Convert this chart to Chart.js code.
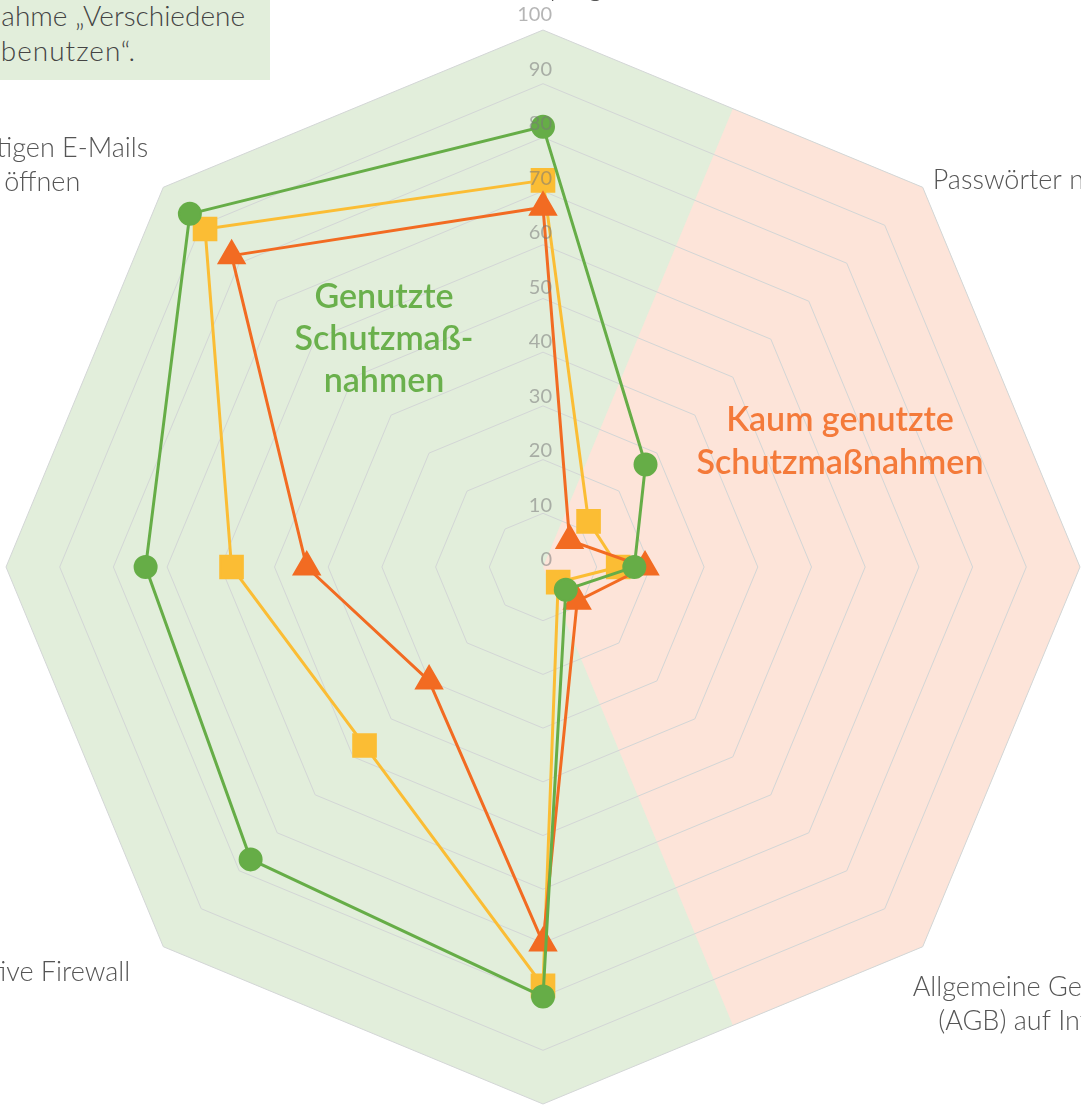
<!DOCTYPE html>
<html>
<head>
<meta charset="utf-8">
<script src="https://cdn.jsdelivr.net/npm/chart.js@4/dist/chart.umd.min.js"></script>
<style>
  html, body { margin: 0; padding: 0; width: 1081px; height: 1110px; overflow: hidden; background: #ffffff; font-family: Lato, "Open Sans", sans-serif; }
  #wrap { position: absolute; left: -107px; top: -83px; width: 1300px; height: 1300px; }
  #note { position: absolute; left: 0; top: 0; width: 270px; height: 80px; background: #e2eedb; overflow: hidden; z-index: 2; color: #444; font-family: Lato, sans-serif; font-weight: 300; font-size: 28px; }
  #note div { position: absolute; white-space: nowrap; }
</style>
</head>
<body>
<div id="wrap"><canvas id="c" width="1300" height="1300"></canvas></div>
<div id="note">
  <div style="right:25px; top:-2px;">Anteil der Nutzer der Maßnahme „Verschiedene</div>
  <div style="right:134px; top:33px; letter-spacing:1px;">Passwörter benutzen“.</div>
</div>
<script>
// ---- data ----
const categories = [
  ["Aktuelles Antivirenprogramm nutzen"],
  ["Passwörter nicht weitergeben"],
  ["Verschlüsselung", "von E-Mails"],
  ["Allgemeine Geschäftsbedingungen", "(AGB) auf Internetseiten lesen"],
  ["Verschiedene Passwörter", "benutzen"],
  ["Aktive Firewall"],
  ["Regelmäßige Updates"],
  ["Anhänge von verdächtigen E-Mails", "oder Links nicht öffnen"]
];
const seriesGreen  = [82, 27, 17, 6, 80, 77, 74, 93];
const seriesOrange = [67, 7, 19, 9, 70, 30, 44, 82];
const seriesYellow = [72, 12, 14, 4, 78, 47, 58, 89];
const tickValues = [0, 10, 20, 30, 40, 50, 60, 70, 80, 90, 100];
const usedLabel = ["Genutzte", "Schutzmaß-", "nahmen"];
const unusedLabel = ["Kaum genutzte", "Schutzmaßnahmen"];

const GREEN = '#66ad47', YELLOW = '#fbbd34', ORANGE = '#f26b22';

// point label placement (style only)
const labelStyle = [
  {align: 'center', dx: 0,   dy: -26, vpos: 'bottom'},
  {align: 'left',   dx: 10,  dy: -7,  vpos: 'middle'},
  {align: 'left',   dx: 12,  dy: 0,   vpos: 'middle'},
  {align: 'left',   dx: -10, dy: 24,  vpos: 'top'},
  {align: 'center', dx: 0,   dy: 12,  vpos: 'top'},
  {align: 'right',  dx: -33, dy: 9,   vpos: 'top'},
  {align: 'right',  dx: -12, dy: 0,   vpos: 'middle'},
  {align: 'right',  dx: -15, dy: 12,  vpos: 'bottom'}
];

const decorPlugin = {
  id: 'decor',
  beforeDraw(chart) {
    const s = chart.scales.r, ctx = chart.ctx;
    const R = s.getDistanceFromCenterForValue(100);
    const n = categories.length;
    const v = [];
    for (let i = 0; i < n; i++) v.push(s.getPointPosition(i, R));
    ctx.save();
    ctx.beginPath();
    v.forEach((p, i) => i ? ctx.lineTo(p.x, p.y) : ctx.moveTo(p.x, p.y));
    ctx.closePath();
    ctx.fillStyle = '#e2eedb';
    ctx.fill();
    const mid = (a, b) => ({x: (a.x + b.x) / 2, y: (a.y + b.y) / 2});
    ctx.beginPath();
    ctx.moveTo(s.xCenter, s.yCenter);
    const m1 = mid(v[0], v[1]), m2 = mid(v[3], v[4]);
    ctx.lineTo(m1.x, m1.y);
    ctx.lineTo(v[1].x, v[1].y);
    ctx.lineTo(v[2].x, v[2].y);
    ctx.lineTo(v[3].x, v[3].y);
    ctx.lineTo(m2.x, m2.y);
    ctx.closePath();
    ctx.fillStyle = '#fde4d9';
    ctx.fill();
    ctx.restore();
  },
  afterDatasetsDraw(chart) {
    const s = chart.scales.r, ctx = chart.ctx;
    const R = s.getDistanceFromCenterForValue(100);
    ctx.save();
    // tick labels
    ctx.font = '400 20px Lato, sans-serif';
    ctx.fillStyle = 'rgba(120,120,120,0.55)';
    ctx.textAlign = 'right';
    ctx.textBaseline = 'middle';
    tickValues.forEach(t => {
      const d = s.getDistanceFromCenterForValue(t) * 1.0158 + 7;
      ctx.fillText(String(t), s.xCenter + 9, s.yCenter - d);
    });
    // point labels
    ctx.font = '300 27px Lato, sans-serif';
    ctx.fillStyle = '#555555';
    ctx.textBaseline = 'middle';
    ctx.textAlign = 'center';
    const lh = 34;
    categories.forEach((lines, i) => {
      const p = s.getPointPosition(i, R);
      const st = labelStyle[i];
      const w = Math.max(...lines.map(l => ctx.measureText(l).width));
      let cx = p.x + st.dx;
      if (st.align === 'left') cx += w / 2;
      if (st.align === 'right') cx -= w / 2;
      const total = lines.length * lh;
      let y0 = p.y + st.dy;
      if (st.vpos === 'bottom') y0 -= total;
      if (st.vpos === 'middle') y0 -= total / 2;
      lines.forEach((l, k) => ctx.fillText(l, cx, y0 + lh * k + lh / 2));
    });
    // region annotations
    ctx.font = '600 34px Lato, sans-serif';
    ctx.fillStyle = '#6ab04c';
    usedLabel.forEach((l, k) => ctx.fillText(l, s.xCenter - 159, s.yCenter - 270 + k * 42));
    ctx.fillStyle = '#f47a3a';
    unusedLabel.forEach((l, k) => ctx.fillText(l, s.xCenter + 297, s.yCenter - 147 + k * 43));
    ctx.restore();
  }
};

new Chart(document.getElementById('c'), {
  type: 'radar',
  data: {
    labels: categories,
    datasets: [
      {label: 'Grün', data: seriesGreen, borderColor: GREEN, backgroundColor: GREEN,
       pointBackgroundColor: GREEN, pointBorderColor: GREEN, pointStyle: 'circle',
       pointRadius: 11, pointBorderWidth: 2, borderWidth: 3, fill: false},
      {label: 'Orange', data: seriesOrange, borderColor: ORANGE, backgroundColor: ORANGE,
       pointBackgroundColor: ORANGE, pointBorderColor: ORANGE, pointStyle: 'triangle',
       pointRadius: 15, pointBorderWidth: 2, borderWidth: 3, fill: false},
      {label: 'Gelb', data: seriesYellow, borderColor: YELLOW, backgroundColor: YELLOW,
       pointBackgroundColor: YELLOW, pointBorderColor: YELLOW, pointStyle: 'rect',
       pointRadius: 16, pointBorderWidth: 2, borderWidth: 3, fill: false}
    ]
  },
  options: {
    responsive: false,
    animation: false,
    layout: {padding: 113},
    plugins: {legend: {display: false}, tooltip: {enabled: false}},
    elements: {line: {tension: 0}},
    scales: {
      r: {
        min: 0, max: 100,
        ticks: {display: false, stepSize: 10},
        pointLabels: {display: false},
        angleLines: {display: false},
        grid: {color: '#d3d6d6', lineWidth: 1}
      }
    }
  },
  plugins: [decorPlugin]
});
</script>
</body>
</html>
